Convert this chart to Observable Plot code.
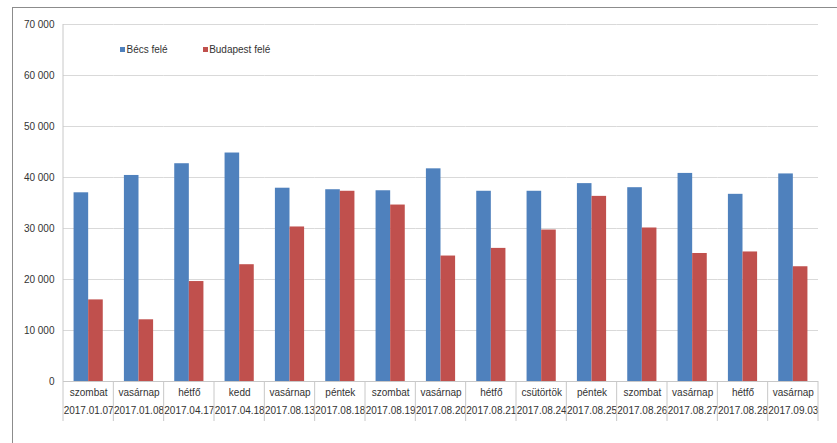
<!DOCTYPE html>
<html>
<head>
<meta charset="utf-8">
<script src="https://cdn.jsdelivr.net/npm/d3@7"></script>
<script src="https://cdn.jsdelivr.net/npm/@observablehq/plot@0.6"></script>
<style>
  html, body { margin: 0; padding: 0; background: #fff; overflow: hidden; }
  #wrap { position: relative; width: 837px; height: 443px; font-family: "Liberation Sans", Arial, sans-serif; }
  #frame { position: absolute; left: 12px; top: 7px; width: 900px; height: 600px; border: 1px solid #8c8c8c; box-sizing: border-box; }
  #chart { position: absolute; left: 0; top: 0; }
  #legend { position: absolute; left: 120px; top: 44px; display: flex; gap: 35px; font-size: 10px; color: #333; }
  #legend span.item { display: inline-flex; align-items: center; }
  #legend span.sw { display: inline-block; width: 5px; height: 5px; margin-right: 1.5px; }
</style>
</head>
<body>
<div id="wrap">
  <div id="frame"></div>
  <div id="chart"></div>
  <div id="legend"></div>
</div>
<script>
const categories = ["2017.01.07","2017.01.08","2017.04.17","2017.04.18","2017.08.13","2017.08.18","2017.08.19","2017.08.20","2017.08.21","2017.08.24","2017.08.25","2017.08.26","2017.08.27","2017.08.28","2017.09.03"];
const days = ["szombat","vasárnap","hétfő","kedd","vasárnap","péntek","szombat","vasárnap","hétfő","csütörtök","péntek","szombat","vasárnap","hétfő","vasárnap"];
const series = ["Bécs felé","Budapest felé"];
const becs = [37000,40400,42700,44800,37900,37600,37400,41700,37300,37300,38800,38000,40800,36700,40700];
const budapest = [16000,12100,19600,22900,30300,37300,34600,24600,26100,29700,36300,30100,25100,25400,22500];
const yTicks = [0,10000,20000,30000,40000,50000,60000,70000];
const colors = ["#4F81BD","#C0504D"];

const bars = categories.flatMap((date, i) => [
  {date, series: series[0], value: becs[i]},
  {date, series: series[1], value: budapest[i]}
]);
const labels = categories.map((date, i) => ({date, day: days[i]}));
const fmt = d => d3.format(",")(d).replace(/,/g, " ");

const W = 837, H = 443, ML = 63, MR = 19, MT = 24, MB = 62, PAD = 0.42;
// paddingOuter = paddingInner/2, so each category step is the frame width / n
const step = (W - ML - MR) / categories.length;
const half = step * PAD / 2;

const plot = Plot.plot({
  width: W,
  height: H,
  marginLeft: ML,
  marginRight: MR,
  marginTop: MT,
  marginBottom: MB,
  style: {fontFamily: "'Liberation Sans', Arial, sans-serif", fontSize: "10px", color: "#333", background: "transparent", overflow: "visible"},
  fx: {domain: categories, paddingInner: PAD, paddingOuter: PAD / 2, round: false, axis: null, label: null},
  x: {domain: series, axis: null, padding: 0, round: false},
  y: {domain: [0, 70000], axis: null},
  color: {domain: series, range: colors},
  marks: [
    Plot.gridY(yTicks, {stroke: "#d9d9d9", strokeOpacity: 1, strokeWidth: 1, insetLeft: -half, insetRight: -half}),
    Plot.axisY(yTicks, {tickSize: 0, tickPadding: 9 + half, tickFormat: fmt, label: null, fill: "#333"}),
    Plot.barY(bars, {fx: "date", x: "series", y: "value", fill: "series"}),
    Plot.ruleY([0], {stroke: "#c8c8c8", insetLeft: -half, insetRight: -half}),
    Plot.text(labels, {fx: "date", text: "day", frameAnchor: "bottom", dy: 14, fill: "#333"}),
    Plot.text(labels, {fx: "date", text: "date", frameAnchor: "bottom", dy: 32, fill: "#333"})
  ]
});
document.getElementById("chart").appendChild(plot);

// category separators drawn from the fx band scale
const fx = plot.scale("fx");
const y = plot.scale("y");
const svg = d3.select(plot);
const gap = (fx.step - fx.bandwidth) / 2;
const edges = categories.map(c => fx.apply(c) - gap);
edges.push(fx.apply(categories[categories.length - 1]) + fx.bandwidth + gap);
svg.append("g").attr("stroke", "#c8c8c8").selectAll("line").data(edges).join("line")
  .attr("x1", d => d).attr("x2", d => d)
  .attr("y1", (d, i) => i === 0 ? y.apply(70000) : y.apply(0))
  .attr("y2", 421);

// legend from the color scale
const color = plot.scale("color");
const lg = d3.select("#legend");
series.forEach(s => {
  const it = lg.append("span").attr("class", "item");
  it.append("span").attr("class", "sw").style("background", color.apply(s));
  it.append("span").text(s);
});
</script>
</body>
</html>
